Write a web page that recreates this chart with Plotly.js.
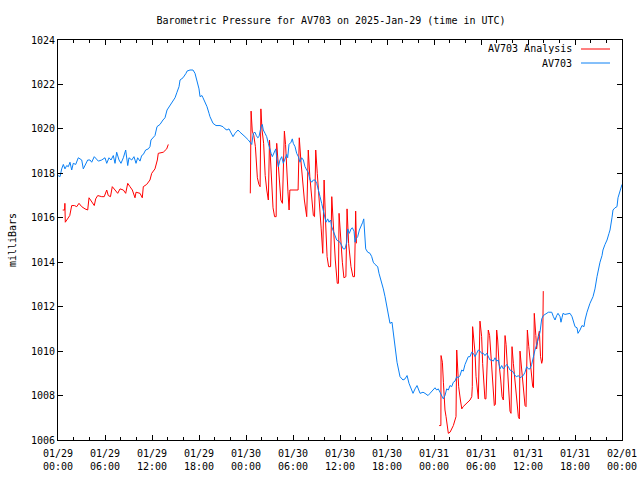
<!DOCTYPE html>
<html>
<head>
<meta charset="utf-8">
<script src="https://cdn.plot.ly/plotly-3.0.1.min.js"></script>
<style>html,body{margin:0;padding:0;background:#fff;}#chart{width:640px;height:480px;}</style>
</head>
<body>
<div id="chart"></div>
<script>
// Hours since 2025-01-29 00:00 UTC
const redHours = [
  0.6, 0.85, 0.88, 0.93, 1.5, 1.75, 2.1, 2.39, 2.68, 3.03, 3.45, 3.79, 3.96, 4.3, 4.63, 4.81, 5.07, 5.58, 5.9,
  6.22, 6.42, 6.7, 6.93, 7.28, 7.62, 7.92, 8.34, 8.64, 8.9, 9.19, 9.49, 9.83, 9.96, 10.47, 10.76, 10.89, 11.32,
  11.74, 11.96, 12.38, 12.68, 12.8, 13.44, 13.88, 14.08,
  14.5,
  24.55, 24.65, 24.8, 25.0, 25.2, 25.45, 25.65, 25.8,
  25.9, 26.05, 26.25, 26.45, 26.65, 26.85,
  27.0, 27.15, 27.3, 27.45, 27.65, 27.85,
  27.92, 28.1, 28.3, 28.45, 28.65,
  28.9, 29.05, 29.2, 29.35, 29.5, 29.6, 30.65,
  30.8, 31.0, 31.2, 31.45, 31.75,
  31.95, 32.15, 32.4, 32.6, 32.75,
  32.9, 33.1, 33.35, 33.6, 33.8,
  33.97, 34.15, 34.35, 34.55, 34.8,
  34.95, 35.15, 35.4, 35.65, 35.8,
  35.88, 36.05, 36.3, 36.5, 36.75,
  36.9, 37.1, 37.4, 37.65, 37.85,
  38.0, 38.1,
  40.0,
  48.66, 48.88, 48.9, 49.07, 49.2, 49.28, 49.4, 49.54, 49.7, 49.83, 50.05, 50.26, 50.47, 50.68, 50.81,
  50.9, 51.0, 51.15, 51.37, 51.55, 51.72, 51.98, 52.19, 52.6, 52.82, 52.89,
  52.93, 53.11, 53.24, 53.37, 53.53, 53.66,
  53.87, 54.08, 54.21, 54.38, 54.5, 54.63,
  54.93, 55.1, 55.21, 55.36, 55.57, 55.7, 55.83,
  56.0, 56.13, 56.3, 56.52, 56.69, 56.85,
  57.07, 57.2, 57.36, 57.49, 57.7, 57.83,
  57.96, 58.13, 58.35, 58.56, 58.77, 58.9,
  58.98, 59.2, 59.4, 59.62, 59.75,
  59.92, 60.1, 60.35, 60.6, 60.7,
  60.8, 61.0, 61.1, 61.3, 61.45, 61.6, 61.75, 61.85, 61.95
];
const redValues = [
  1016.35, 1016.35, 1016.65, 1015.8, 1016.1, 1016.55, 1016.55, 1016.5, 1016.65, 1016.5, 1016.4, 1016.35, 1016.9, 1016.7, 1016.55, 1016.85, 1017.0, 1016.95, 1016.95,
  1017.25, 1017.0, 1016.95, 1017.4, 1017.25, 1017.1, 1017.3, 1017.25, 1017.1, 1017.55, 1017.4, 1017.25, 1016.9, 1017.15, 1017.1, 1016.9, 1017.4, 1017.5,
  1017.7, 1018.0, 1018.2, 1018.6, 1018.9, 1018.95, 1019.1, 1019.3,
  null,
  1017.1, 1020.8, 1019.9, 1019.7, 1019.2, 1017.8, 1017.5, 1017.4,
  1020.9, 1019.95, 1019.35, 1017.9, 1017.25, 1016.8,
  1019.5, 1018.3, 1016.95, 1016.45, 1016.05, 1016.05,
  1019.35, 1018.5, 1017.2, 1016.8, 1016.65,
  1019.9, 1019.3, 1018.0, 1017.2, 1016.35, 1017.25, 1017.25,
  1019.6, 1018.6, 1017.7, 1016.8, 1016.05,
  1019.05, 1017.85, 1016.8, 1016.1, 1016.05,
  1019.05, 1018.0, 1016.95, 1015.5, 1014.4,
  1017.7, 1015.9, 1014.25, 1013.8, 1013.8,
  1016.95, 1015.6, 1014.1, 1013.05, 1013.05,
  1016.2, 1015.15, 1014.0, 1013.3, 1013.35,
  1016.4, 1014.85, 1013.8, 1013.35, 1013.35,
  1016.3, 1014.85,
  null,
  1006.65, 1006.65, 1009.8, 1009.5, 1008.6, 1007.8, 1007.35, 1007.05, 1006.65, 1006.3, 1006.35, 1006.5, 1006.65, 1006.9, 1007.05,
  1010.05, 1009.4, 1008.4, 1007.8, 1007.4, 1007.5, 1007.6, 1007.65, 1007.8, 1007.95, 1008.4,
  1011.1, 1010.55, 1009.9, 1008.85, 1008.1, 1007.85,
  1011.35, 1010.65, 1009.45, 1008.4, 1007.85, 1007.85,
  1010.95, 1010.7, 1010.2, 1009.5, 1008.4, 1007.55, 1007.6,
  1010.95, 1010.5, 1009.45, 1008.7, 1007.95, 1007.8,
  1010.7, 1010.3, 1009.3, 1008.25, 1007.3, 1007.2,
  1010.2, 1009.45, 1008.55, 1007.65, 1007.05, 1006.95,
  1010.0, 1009.15, 1008.4, 1007.55, 1007.5,
  1010.95, 1010.2, 1009.15, 1008.4, 1008.35,
  1011.7, 1010.7, 1010.1, 1010.65, 1010.9, 1009.75, 1009.45, 1009.6, 1012.7
];

const blueHours = [
  0.0, 0.26, 0.47, 0.68, 0.89, 1.11, 1.32, 1.53, 1.75, 1.95, 2.26, 2.59, 2.81, 3.03, 3.23, 3.45, 3.79, 4.09, 4.3,
  4.63, 4.94, 5.15, 5.58, 6.0, 6.22, 6.51, 6.77, 7.06, 7.28, 7.49, 7.79, 8.04, 8.34, 8.64, 8.9, 9.06, 9.41, 9.7,
  9.96, 10.17, 10.47, 10.68, 10.89, 11.19, 11.53, 11.74, 11.87, 12.17, 12.38, 12.64, 13.02, 13.4, 13.66, 13.92,
  14.3, 14.55, 14.94, 15.19, 15.45, 15.58, 15.96, 16.34, 16.47, 16.85, 17.23, 17.49, 17.75, 18.0, 18.13, 18.38,
  18.51, 18.77, 19.02, 19.28, 19.4, 19.79, 20.17, 20.68, 21.06, 21.32, 21.57, 21.83, 22.09, 22.34, 22.6, 22.98,
  23.24, 23.62, 23.87, 24.3, 24.73, 24.93, 25.15, 25.32, 25.5, 25.66, 25.92, 26.08, 26.21, 26.43, 26.64, 26.85,
  27.07, 27.2, 27.36, 27.58, 27.8, 27.92, 28.13, 28.34, 28.56, 28.76, 28.98, 29.2, 29.32, 29.49, 29.75, 29.91,
  30.04, 30.26, 30.47, 30.68, 30.89, 31.11, 31.32, 31.53, 31.75, 31.95, 32.17, 32.39, 32.59, 32.81, 33.03, 33.23,
  33.45, 33.66, 33.87, 34.09, 34.21, 34.43, 34.6, 34.81, 34.94, 35.15, 35.36, 35.58, 35.78, 36.0, 36.22, 36.42,
  36.64, 36.86, 36.98, 37.19, 37.41, 37.57, 37.79, 37.92, 38.04, 38.26, 38.47, 38.68, 38.9, 39.03, 39.1, 39.28,
  39.54, 39.83, 40.05, 40.25, 40.47, 40.81, 40.98, 41.2, 41.33, 41.53, 41.75, 42.13, 42.38, 42.64, 42.9, 43.28,
  43.66, 44.04, 44.3, 44.56, 44.81, 45.07, 45.32, 45.58, 45.83, 46.22, 46.6, 46.85, 47.24, 47.49, 47.91, 48.13,
  48.34, 48.55, 48.77, 48.98, 49.19, 49.4, 49.62, 49.83, 50.04, 50.26, 50.47, 50.68, 50.9, 51.1, 51.32, 51.54,
  51.74, 51.96, 52.17, 52.38, 52.6, 52.81, 53.02, 53.24, 53.45, 53.66, 53.87, 54.08, 54.3, 54.51, 54.73, 54.93,
  55.15, 55.36, 55.57, 55.79, 56.0, 56.21, 56.43, 56.64, 56.85, 57.07, 57.28, 57.49, 57.7, 57.92, 58.13, 58.34,
  58.56, 58.77, 58.98, 59.2, 59.4, 59.62, 59.83, 60.04, 60.26, 60.47, 60.68, 60.89, 61.11, 61.32, 61.53, 61.75,
  61.96, 62.17, 62.39, 62.6, 62.81, 63.03, 63.24, 63.45, 63.66, 63.83, 64.09, 64.21, 64.34, 64.47, 64.72, 65.11,
  65.36, 65.62, 65.87, 66.0, 66.26, 66.38, 66.64, 66.89, 67.15, 67.28, 67.53, 67.91, 68.3, 68.55, 68.81, 69.06,
  69.19, 69.45, 69.57, 69.83, 70.09, 70.34, 70.47, 70.72, 70.85, 71.11, 71.36, 71.49, 71.74, 71.87, 72.0
];
const blueValues = [
  1017.9, 1017.85, 1018.2, 1018.4, 1018.2, 1018.35, 1018.3, 1018.5, 1018.15, 1018.45, 1018.4, 1018.7, 1018.65, 1018.6, 1018.2, 1018.35, 1018.6, 1018.6, 1018.5,
  1018.75, 1018.6, 1018.55, 1018.6, 1018.7, 1018.45, 1018.7, 1018.6, 1018.8, 1018.45, 1018.95, 1018.6, 1018.45, 1018.7, 1019.05, 1018.35, 1018.7, 1018.6, 1018.75,
  1018.45, 1018.7, 1018.55, 1018.8, 1018.85, 1019.05, 1019.1, 1019.2, 1019.5, 1019.65, 1019.7, 1020.1, 1020.2, 1020.4, 1020.5, 1020.85,
  1021.05, 1021.2, 1021.4, 1021.65, 1021.9, 1022.2, 1022.3, 1022.5, 1022.6, 1022.65, 1022.65, 1022.5, 1022.2, 1021.8, 1021.45, 1021.5,
  1021.4, 1021.2, 1021.0, 1020.7, 1020.55, 1020.25, 1020.15, 1020.15, 1020.1, 1020.0, 1019.95, 1020.0, 1019.8, 1019.65, 1019.8, 1019.95,
  1019.85, 1019.7, 1019.65, 1019.5, 1019.3, 1019.8, 1019.85, 1019.7, 1019.6, 1019.65, 1020.1, 1020.2, 1019.95, 1019.8, 1019.65, 1019.35,
  1019.0, 1018.9, 1018.75, 1018.9, 1019.1, 1018.7, 1018.3, 1018.6, 1018.75, 1018.45, 1018.7, 1018.85, 1018.7, 1019.3, 1019.4, 1019.55,
  1019.35, 1019.2, 1018.9, 1018.75, 1018.5, 1018.7, 1018.6, 1018.3, 1018.15, 1018.05, 1017.7, 1017.6, 1017.7, 1017.7, 1017.55, 1017.2,
  1016.95, 1016.65, 1016.35, 1016.1, 1015.8, 1015.95, 1015.8, 1015.9, 1015.6, 1015.4, 1015.15, 1015.0, 1014.95, 1014.9, 1014.75, 1014.6,
  1014.6, 1014.9, 1015.5, 1015.3, 1015.5, 1015.55, 1015.4, 1014.9, 1015.05, 1015.15, 1015.45, 1015.6, 1015.8, 1015.95, 1015.6, 1014.6,
  1014.45, 1014.4, 1014.25, 1014.0, 1013.9, 1013.8, 1013.5, 1013.25, 1013.05, 1012.8, 1012.45, 1011.7, 1011.25, 1011.3, 1010.5, 1009.5,
  1008.85, 1008.7, 1008.75, 1008.9, 1008.55, 1008.3, 1008.1, 1008.3, 1008.45, 1008.1, 1008.15, 1008.1, 1008.0, 1008.1, 1008.3, 1008.35,
  1008.25, 1008.3, 1008.15, 1008.0, 1007.85, 1008.0, 1008.3, 1008.25, 1008.45, 1008.4, 1008.6, 1008.65, 1008.85, 1008.8, 1008.9, 1009.15,
  1009.1, 1009.4, 1009.55, 1009.75, 1009.75, 1009.95, 1009.9, 1009.75, 1009.9, 1010.05, 1010.0, 1009.9, 1009.9, 1009.8, 1009.9, 1009.75,
  1009.6, 1009.6, 1009.55, 1009.7, 1009.55, 1009.6, 1009.2, 1009.35, 1009.2, 1009.3, 1009.4, 1009.3, 1009.15, 1009.1, 1009.05, 1008.9,
  1008.85, 1008.9, 1008.8, 1008.85, 1008.9, 1009.05, 1009.3, 1009.2, 1009.2, 1009.4, 1009.8, 1010.05, 1010.3, 1010.55, 1010.85, 1011.45,
  1011.6, 1011.65, 1011.7, 1011.75, 1011.75, 1011.75, 1011.55, 1011.4, 1011.6, 1011.7, 1011.55, 1011.3, 1011.5, 1011.7, 1011.65, 1011.7,
  1011.7, 1011.55, 1011.3, 1011.1, 1011.05, 1010.8, 1010.95, 1011.15, 1011.1, 1011.4, 1011.75, 1012.15, 1012.45, 1012.8, 1013.35, 1013.85,
  1014.0, 1014.3, 1014.55, 1014.8, 1015.0, 1015.3, 1015.45, 1016.0, 1016.35, 1016.45, 1016.5, 1016.9, 1017.25, 1017.35, 1017.5
];

const tickHours = [0, 6, 12, 18, 24, 30, 36, 42, 48, 54, 60, 66, 72];
const tickLabels = ["01/29<br>00:00", "01/29<br>06:00", "01/29<br>12:00", "01/29<br>18:00",
  "01/30<br>00:00", "01/30<br>06:00", "01/30<br>12:00", "01/30<br>18:00",
  "01/31<br>00:00", "01/31<br>06:00", "01/31<br>12:00", "01/31<br>18:00", "02/01<br>00:00"];
const yTicks = [1006, 1008, 1010, 1012, 1014, 1016, 1018, 1020, 1022, 1024];
const seriesNames = ["AV703 Analysis", "AV703"];
const seriesColors = ["#ff0000", "#0a80f5"];

const FONT = "DejaVu Sans Mono, monospace";

const traces = [
  {x: redHours, y: redValues, name: seriesNames[0], type: "scatter", mode: "lines",
   line: {color: seriesColors[0], width: 1}, connectgaps: false, showlegend: false, hoverinfo: "skip"},
  {x: blueHours, y: blueValues, name: seriesNames[1], type: "scatter", mode: "lines",
   line: {color: seriesColors[1], width: 1}, connectgaps: false, showlegend: false, hoverinfo: "skip"}
];

// legend drawn gnuplot-style: text right-aligned with sample line on the right
const annotations = seriesNames.map((n, i) => ({
  text: n, xref: "paper", yref: "paper", x: (574 - 58) / 564, y: 1 - (49 + 14 * i - 40) / 400,
  xanchor: "right", yanchor: "middle", showarrow: false, font: {family: FONT, size: 10, color: "#000"}
}));
const shapes = seriesNames.map((n, i) => ({
  type: "line", xref: "paper", yref: "paper",
  x0: (581 - 58) / 564, x1: (610 - 58) / 564,
  y0: 1 - (49 + 14 * i - 40) / 400, y1: 1 - (49 + 14 * i - 40) / 400,
  line: {color: seriesColors[i], width: 1}
}));

const layout = {
  width: 640, height: 480,
  margin: {l: 58, r: 18, t: 40, b: 40, pad: 0},
  paper_bgcolor: "#fff", plot_bgcolor: "#fff",
  font: {family: FONT, size: 10, color: "#000"},
  title: {text: "Barometric Pressure for AV703 on 2025-Jan-29 (time in UTC)",
          x: 331 / 640, xref: "container", xanchor: "center",
          y: 1 - 20 / 480, yref: "container", yanchor: "middle",
          font: {family: FONT, size: 10, color: "#000"}},
  xaxis: {range: [0, 72], tickmode: "array", tickvals: tickHours, ticktext: tickLabels,
          showgrid: false, zeroline: false, showline: true, linecolor: "#000", linewidth: 1,
          mirror: "allticks", ticks: "inside", ticklen: 5, tickcolor: "#000", tickwidth: 1,
          ticklabelstandoff: 4,
          minor: {dtick: 2, tick0: 0, ticks: "inside", ticklen: 3, tickcolor: "#000", showgrid: false},
          tickfont: {family: FONT, size: 10}, automargin: false, fixedrange: true},
  yaxis: {range: [1006, 1024], tickmode: "array", tickvals: yTicks, ticktext: yTicks.map(String),
          showgrid: false, zeroline: false, showline: true, linecolor: "#000", linewidth: 1,
          mirror: "allticks", ticks: "inside", ticklen: 5, tickcolor: "#000", tickwidth: 1,
          tickfont: {family: FONT, size: 10}, automargin: false, fixedrange: true,
          title: {text: "milliBars", font: {family: FONT, size: 10}, standoff: 12}},
  annotations: annotations,
  shapes: shapes
};

Plotly.newPlot("chart", traces, layout, {staticPlot: true, displayModeBar: false});
</script>
</body>
</html>
